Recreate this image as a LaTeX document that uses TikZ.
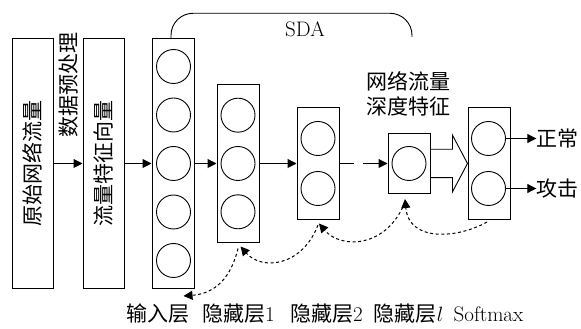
\documentclass[tikz,border=0pt]{standalone}
\usepackage{fontspec}
\newfontfamily\cjk{Noto Sans CJK SC}
\usetikzlibrary{arrows.meta}

\begin{document}
\begin{tikzpicture}[x=1pt,y=1pt,
  every node/.style={font=\fontsize{21}{25}\selectfont},
  layer/.style={draw, line width=1pt, minimum width=42pt, inner sep=0pt},
  neuron/.style={draw, circle, line width=0.9pt, minimum size=34pt, inner sep=0pt},
  flow/.style={line width=1pt, -{Triangle[length=9pt,width=9pt]}},
  back/.style={line width=1pt, dash pattern=on 3pt off 2.6pt, -{Triangle[length=9pt,width=9pt]}},
  tag/.style={anchor=base, inner sep=0pt},
]
\useasboundingbox (0,0) rectangle (581,329);

% input data and preprocessing
\node[layer, minimum width=41pt, minimum height=249.5pt] (raw) at (32.5,165.5) {};
\node[rotate=90] at (raw.center) {\cjk 原始网络流量};
\node[layer, minimum width=41pt, minimum height=249.5pt] (vec) at (103.5,165.5) {};
\node[rotate=90] at (vec.center) {\cjk 流量特征向量};
\node[rotate=90, inner sep=0pt] (prep) at (68.5,244) {\cjk 数据预处理};

% stacked layers
\node[layer, minimum height=250pt] (inp) at (173,165.5) {};
\foreach \k/\dy in {1/97,2/48.5,3/0,4/-48.5,5/-97}
  \node[neuron] (i\k) at (173.5,165.5+\dy) {};
\node[layer, minimum height=158pt] (h1) at (238,165.5) {};
\foreach \k/\dy in {1/48.3,2/0,3/-48.3}
  \node[neuron] (a\k) at (238,165.5+\dy) {};
\node[layer, minimum height=112pt] (h2) at (318,165.5) {};
\foreach \k/\dy in {1/25,2/-25}
  \node[neuron] (b\k) at (318,165.5+\dy) {};
\node[layer, minimum height=60pt] (hl) at (409,165.5) {};
\node[neuron] (c1) at (409,165.5) {};
\node[layer, minimum height=112pt] (sm) at (489,165.5) {};
\foreach \k/\dy in {1/25,2/-25}
  \node[neuron] (s\k) at (488.5,165.5+\dy) {};

% forward connections
\draw[flow] (raw.east) -- (vec.west);
\draw[flow] (vec.east) -- (inp.west);
\draw[flow] (inp.east) -- (h1.west);
\draw[flow] (h1.east) -- (h2.west);
\draw[flow, dash pattern=on 14pt off 9pt on 100pt off 1pt] (h2.east) -- (hl.west);

% hollow arrow into the classifier
\draw[line width=0.9pt, line join=miter]
  ([yshift=14.2pt]hl.east) -- ++(22,0) -- ++(0,14.1) -- (sm.west)
  -- ([xshift=22pt,yshift=-28.3pt]hl.east) -- ++(0,14.1) -- ([yshift=-14.2pt]hl.east);

% outputs
\node[inner sep=0pt] (ok) at (557.5,190.5) {\cjk 正常};
\node[inner sep=0pt] (atk) at (557.5,140.5) {\cjk 攻击};
\draw[flow] (s1.east) -- (ok.west);
\draw[flow] (s2.east) -- (atk.west);

% SDA bracket
\coordinate (sdaend) at (412,292);
\draw[line width=0.9pt, rounded corners=22pt] ([xshift=-2pt]inp.north) |- (412,315.7) -- (sdaend);
\node[anchor=base] (sda) at (305,292.3) {SDA};

\node[align=center, inner sep=0pt, font=\fontsize{21}{25}\selectfont\cjk] (feat) at (408.5,235.5) {网络流量\\深度特征};

% fine-tuning feedback
\draw[back] ([xshift=-2pt,yshift=-2pt]sm.south) .. controls +(-28,-16) and +(4,-44) .. ([xshift=-4pt,yshift=-5pt]hl.south);
\draw[back] ([xshift=-4pt,yshift=-8pt]hl.south) .. controls +(-18,-46) and +(22,-26) .. ([xshift=1pt,yshift=-3.5pt]h2.south);
\draw[back] ([yshift=-5pt]h2.south) .. controls +(-16,-42) and +(21,-24) .. ([xshift=2.5pt,yshift=-3.5pt]h1.south);
\draw[back] ([yshift=-5.5pt]h1.south) .. controls +(-9,-37) and +(25,2) .. ([xshift=-11pt,yshift=-7pt]inp.south east);

% layer names
\node[tag] (t0) at (157.5,7.5) {\cjk 输入层};
\node[tag] (t1) at (238.5,7.5) {{\cjk 隐藏层}1};
\node[tag] (t2) at (326.5,7.5) {{\cjk 隐藏层}2};
\node[tag] (t3) at (408.5,7.5) {{\cjk 隐藏层}$l$};
\node[tag] (t4) at (488.5,7.5) {Softmax};
\end{tikzpicture}
\end{document}
